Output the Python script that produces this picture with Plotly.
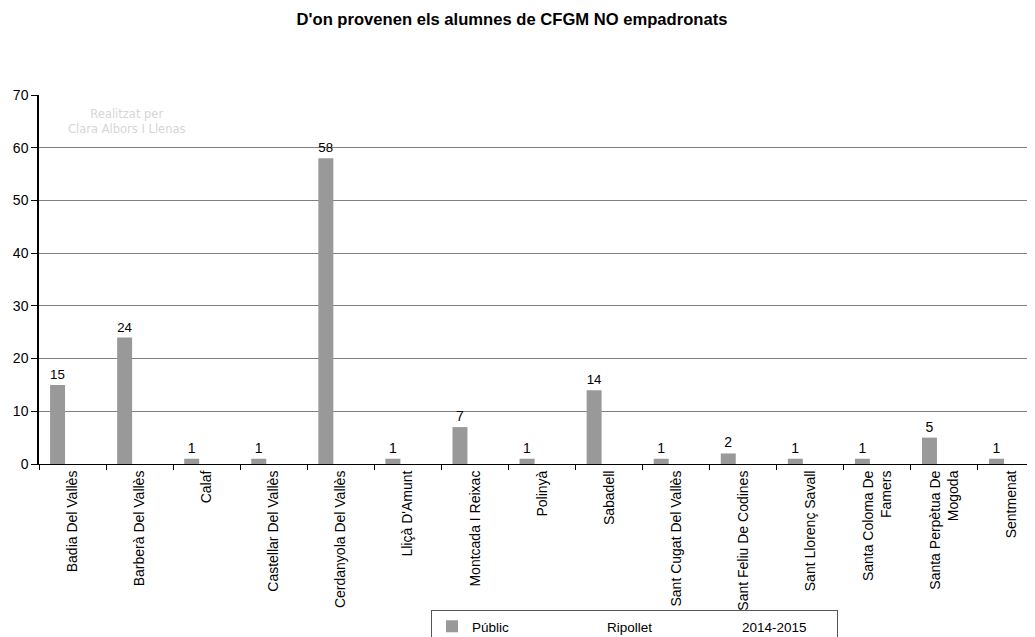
import plotly.graph_objects as go

categories = [
    "Badia Del Vallès", "Barberà Del Vallès", "Calaf", "Castellar Del Vallès",
    "Cerdanyola Del Vallès", "Lliçà D'Amunt", "Montcada I Reixac", "Polinyà",
    "Sabadell", "Sant Cugat Del Vallès", "Sant Feliu De Codines",
    "Sant Llorenç Savall", "Santa Coloma De<br>Famers", "Santa Perpètua De<br>Mogoda",
    "Sentmenat",
]
publico_values = [15, 24, 1, 1, 58, 1, 7, 1, 14, 1, 2, 1, 1, 5, 1]
ripollet_values = [0] * len(categories)
curs_values = [0] * len(categories)

series_names = ["Públic", "Ripollet", "2014-2015"]
title_text = "D'on provenen els alumnes de CFGM NO empadronats"
y_ticks = [0, 10, 20, 30, 40, 50, 60, 70]
watermark_lines = ["Realitzat per", "Clara Albors I Llenas"]

FONT = "Liberation Sans, Arial, sans-serif"

# The page body has an 8px margin, so the figure is drawn 8px in from the top-left.
W, H = 1027, 629

fig = go.Figure()
fig.add_trace(go.Bar(
    x=categories, y=publico_values, name=series_names[0],
    marker=dict(color="#999999", line=dict(width=0)),
    text=[str(v) for v in publico_values], textposition="outside",
    textfont=dict(family=FONT, size=14, color="#000000"),
    cliponaxis=False,
))
fig.add_trace(go.Bar(
    x=categories, y=ripollet_values, name=series_names[1],
    marker=dict(color="rgba(0,0,0,0)", line=dict(width=0)),
))
fig.add_trace(go.Bar(
    x=categories, y=curs_values, name=series_names[2],
    marker=dict(color="rgba(0,0,0,0)", line=dict(width=0)),
))

fig.update_layout(
    width=W, height=H,
    margin=dict(l=31, r=0, t=87, b=173, pad=0, autoexpand=False),
    paper_bgcolor="white", plot_bgcolor="white",
    barmode="group", bargap=0.33, bargroupgap=0,
    font=dict(family=FONT, size=14, color="#000000"),
    title=dict(
        text="<b>" + title_text + "</b>",
        x=504 / W, xanchor="center", xref="container",
        y=1 - 11 / H, yanchor="middle", yref="container",
        font=dict(family=FONT, size=16.6, color="#000000"),
    ),
    showlegend=True,
    legend=dict(
        orientation="h",
        xref="container", yref="container",
        x=423 / W, xanchor="left",
        y=(H - 602) / H, yanchor="top",
        bordercolor="#555555", borderwidth=1,
        bgcolor="white",
        font=dict(family=FONT, size=13.5, color="#000000"),
        entrywidth=90, entrywidthmode="pixels",
        itemwidth=30,
        traceorder="normal",
    ),
    xaxis=dict(
        type="category",
        range=[-0.5, 14.35],
        tickangle=-90,
        tickson="boundaries",
        ticks="outside", ticklen=5, tickcolor="#000000", tickwidth=1,
        showline=True, linecolor="#000000", linewidth=1,
        showgrid=False, zeroline=False,
        tickfont=dict(family=FONT, size=14, color="#000000"),
        fixedrange=True,
    ),
    yaxis=dict(
        range=[0, 70],
        tickvals=y_ticks,
        ticks="outside", ticklen=6, tickcolor="#000000", tickwidth=1,
        showline=True, linecolor="#000000", linewidth=1.5,
        showgrid=True, gridcolor="#808080", gridwidth=1,
        zeroline=False,
        tickfont=dict(family=FONT, size=14, color="#000000"),
        fixedrange=True,
    ),
    annotations=[
        dict(
            text="<br>".join(watermark_lines),
            xref="paper", yref="paper",
            x=(127 - 39) / 996, y=(464 - 121) / 369,
            xanchor="center", yanchor="middle",
            showarrow=False, align="center",
            font=dict(family="DejaVu Sans, sans-serif", size=11.5, color="#d6d6d6"),
        )
    ],
)

fig.write_html("out.html")
